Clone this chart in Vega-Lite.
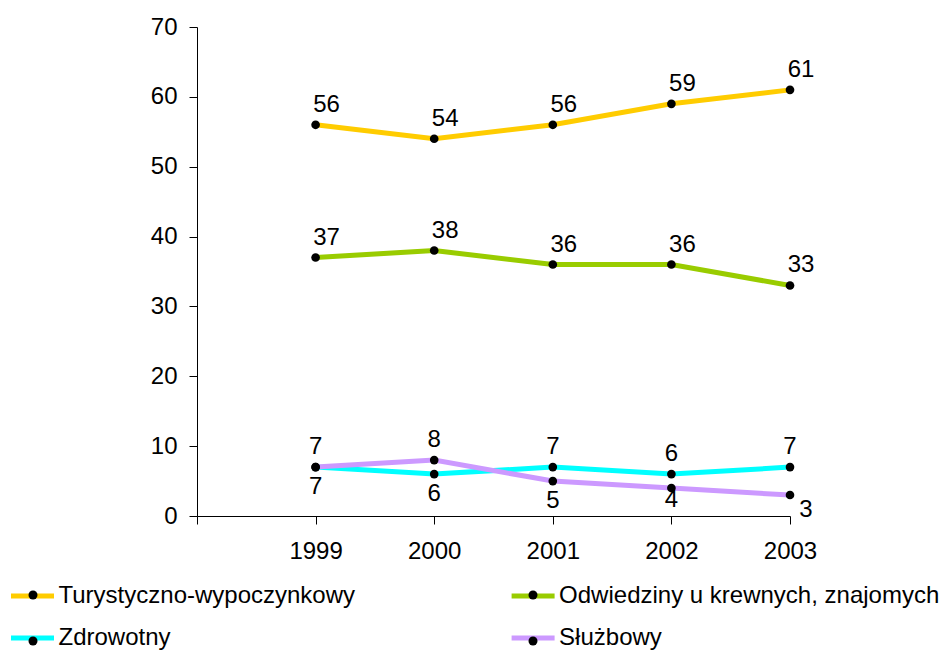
{
  "$schema": "https://vega.github.io/schema/vega-lite/v6.json",
  "width": 593,
  "height": 489,
  "autosize": {"type": "none"},
  "padding": {"left": 197, "top": 27, "right": 153, "bottom": 134},
  "background": "white",
  "config": {
    "view": {"stroke": null},
    "font": "Liberation Sans",
    "axis": {
      "grid": false,
      "domainColor": "black",
      "domainWidth": 1,
      "tickColor": "black",
      "tickWidth": 1,
      "tickSize": 8,
      "labelColor": "black",
      "labelFont": "Liberation Sans",
      "labelFontSize": 24,
      "labelFlush": false,
      "labelOverlap": false,
      "title": null
    }
  },
  "data": {
    "values": [
      {"series": "Turystyczno-wypoczynkowy", "year": 1999, "value": 56},
      {"series": "Turystyczno-wypoczynkowy", "year": 2000, "value": 54},
      {"series": "Turystyczno-wypoczynkowy", "year": 2001, "value": 56},
      {"series": "Turystyczno-wypoczynkowy", "year": 2002, "value": 59},
      {"series": "Turystyczno-wypoczynkowy", "year": 2003, "value": 61},
      {"series": "Odwiedziny u krewnych, znajomych", "year": 1999, "value": 37},
      {"series": "Odwiedziny u krewnych, znajomych", "year": 2000, "value": 38},
      {"series": "Odwiedziny u krewnych, znajomych", "year": 2001, "value": 36},
      {"series": "Odwiedziny u krewnych, znajomych", "year": 2002, "value": 36},
      {"series": "Odwiedziny u krewnych, znajomych", "year": 2003, "value": 33},
      {"series": "Zdrowotny", "year": 1999, "value": 7},
      {"series": "Zdrowotny", "year": 2000, "value": 6},
      {"series": "Zdrowotny", "year": 2001, "value": 7},
      {"series": "Zdrowotny", "year": 2002, "value": 6},
      {"series": "Zdrowotny", "year": 2003, "value": 7},
      {"series": "Służbowy", "year": 1999, "value": 7},
      {"series": "Służbowy", "year": 2000, "value": 8},
      {"series": "Służbowy", "year": 2001, "value": 5},
      {"series": "Służbowy", "year": 2002, "value": 4},
      {"series": "Służbowy", "year": 2003, "value": 3}
    ]
  },
  "encoding": {
    "x": {
      "field": "year",
      "type": "quantitative",
      "scale": {"domain": [1998, 2003], "nice": false, "zero": false},
      "axis": {
        "values": [1998, 1999, 2000, 2001, 2002, 2003],
        "format": "d",
        "labelExpr": "datum.value == 1998 ? '' : datum.label",
        "labelPadding": 15
      }
    },
    "y": {
      "field": "value",
      "type": "quantitative",
      "scale": {"domain": [0, 70], "nice": false},
      "axis": {
        "values": [0, 10, 20, 30, 40, 50, 60, 70],
        "labelPadding": 12
      }
    }
  },
  "layer": [
    {
      "mark": {"type": "line", "strokeWidth": 5},
      "encoding": {
        "color": {
          "field": "series",
          "type": "nominal",
          "scale": {
            "domain": ["Turystyczno-wypoczynkowy", "Odwiedziny u krewnych, znajomych", "Zdrowotny", "Służbowy"],
            "range": ["#FFCC00", "#99CC00", "#00FFFF", "#CC99FF"]
          },
          "legend": {
            "orient": "none",
            "direction": "horizontal",
            "legendX": -188.5,
            "legendY": 545,
            "title": null,
            "columns": 2,
            "columnPadding": 145.6,
            "rowPadding": 6,
            "symbolType": "stroke",
            "symbolSize": 1849,
            "symbolStrokeWidth": 5,
            "labelFont": "Liberation Sans",
            "labelFontSize": 24,
            "labelColor": "black",
            "labelOffset": 2,
            "labelLimit": 0,
            "padding": 0
          }
        }
      }
    },
    {
      "mark": {"type": "point", "filled": true, "color": "black", "size": 75, "opacity": 1},
      "encoding": {
        "shape": {
          "field": "series",
          "type": "nominal",
          "sort": null,
          "scale": {"range": ["circle"]},
          "legend": {
            "orient": "none",
            "direction": "horizontal",
            "legendX": -176,
            "legendY": 556,
            "title": null,
            "columns": 2,
            "columnPadding": 439,
            "rowPadding": 22,
            "symbolSize": 81,
            "symbolFillColor": "black",
            "symbolStrokeColor": "black",
            "symbolStrokeWidth": 0,
            "labelFont": "Liberation Sans",
            "labelFontSize": 24,
            "labelExpr": "''",
            "labelOffset": 37,
            "labelLimit": 0,
            "padding": 0
          }
        }
      }
    },
    {
      "transform": [{"filter": "datum.series == 'Turystyczno-wypoczynkowy' || datum.series == 'Odwiedziny u krewnych, znajomych'"}],
      "mark": {"type": "text", "font": "Liberation Sans", "fontSize": 24, "color": "black", "align": "center", "baseline": "middle", "dx": 11, "dy": -20},
      "encoding": {"text": {"field": "value", "type": "quantitative"}}
    },
    {
      "transform": [{"filter": "(datum.series == 'Zdrowotny' && datum.year != 2000) || (datum.series == 'Służbowy' && datum.year == 2000)"}],
      "mark": {"type": "text", "font": "Liberation Sans", "fontSize": 24, "color": "black", "align": "center", "baseline": "middle", "dx": 0, "dy": -20},
      "encoding": {"text": {"field": "value", "type": "quantitative"}}
    },
    {
      "transform": [{"filter": "(datum.series == 'Zdrowotny' && datum.year == 2000) || (datum.series == 'Służbowy' && (datum.year == 1999 || datum.year == 2001))"}],
      "mark": {"type": "text", "font": "Liberation Sans", "fontSize": 24, "color": "black", "align": "center", "baseline": "middle", "dx": 0, "dy": 20},
      "encoding": {"text": {"field": "value", "type": "quantitative"}}
    },
    {
      "transform": [{"filter": "datum.series == 'Służbowy' && datum.year == 2002"}],
      "mark": {"type": "text", "font": "Liberation Sans", "fontSize": 24, "color": "black", "align": "center", "baseline": "middle", "dx": 0, "dy": 12},
      "encoding": {"text": {"field": "value", "type": "quantitative"}}
    },
    {
      "transform": [{"filter": "datum.series == 'Służbowy' && datum.year == 2003"}],
      "mark": {"type": "text", "font": "Liberation Sans", "fontSize": 24, "color": "black", "align": "center", "baseline": "middle", "dx": 16, "dy": 15},
      "encoding": {"text": {"field": "value", "type": "quantitative"}}
    }
  ]
}
